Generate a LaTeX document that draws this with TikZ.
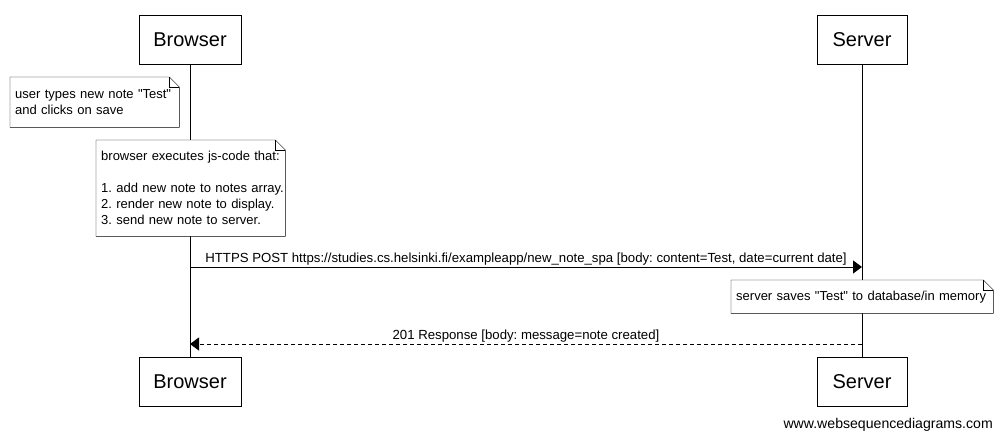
\documentclass[tikz,border=0pt]{standalone}
\usepackage{fontspec}
\newfontfamily\wsdfont{Liberation Sans}
\usetikzlibrary{positioning,arrows.meta}
\frenchspacing

% folded corner round a note node
\newcommand{\dogear}[1]{%
  \draw[fill=white] (#1.north west) -- ([xshift=-10pt]#1.north east) -- ([yshift=-10pt]#1.north east)
    -- (#1.south east) -- (#1.south west) -- cycle;
  \draw ([xshift=-10pt]#1.north east) |- ([yshift=-10pt]#1.north east);}

\tikzset{
  actor/.style={draw, line width=1pt, minimum height=49pt, inner sep=0pt, font=\wsdfont\fontsize{20}{23}\selectfont},
  note/.style={anchor=north west, align=left, inner xsep=5pt, inner ysep=6pt, font=\wsdfont\fontsize{13}{16}\selectfont},
  msg/.style={line width=1pt, -{Triangle[length=9pt,width=13pt]}},
  lbl/.style={font=\wsdfont\fontsize{13.2}{15}\selectfont, inner sep=1.5pt}
}

\begin{document}
\begin{tikzpicture}[x=1pt,y=-1pt,on grid]
  \useasboundingbox (0,0) rectangle (1003,440);
  % participants
  \node[actor, minimum width=102pt] (btop) at (190,39.5) {Browser};
  \node[actor, minimum width=90pt] (stop) [right=672pt of btop] {Server};
  \node[actor, minimum width=102pt] (bbot) [below=342pt of btop] {Browser};
  \node[actor, minimum width=90pt] (sbot) [below=342pt of stop] {Server};
  % lifelines
  \draw[line width=1pt] (btop) -- (bbot);
  \draw[line width=1pt] (stop) -- (sbot);

  % notes
  \node[note, text width=159pt, minimum height=50pt] (typed) at (10,77)
    {user types new note "Test"\\and clicks on save};
  \dogear{typed}
  \node[note, text width=159pt, minimum height=50pt] at (10,77)
    {user types new note "Test"\\and clicks on save};
  \node[note, text width=179pt, minimum height=96pt] (jscode) at (96,140)
    {\mbox{browser executes js-code that:}\\[16pt]\mbox{1. add new note to notes array.}\\\mbox{2. render new note to display.}\\\mbox{3. send new note to server.}};
  \dogear{jscode}
  \node[note, text width=179pt, minimum height=96pt] at (96,140)
    {\mbox{browser executes js-code that:}\\[16pt]\mbox{1. add new note to notes array.}\\\mbox{2. render new note to display.}\\\mbox{3. send new note to server.}};

  % request
  \coordinate (req from) at (190,267);
  \coordinate (req to) at (862,267);
  \draw[msg] (req from) -- node[lbl, above] {HTTPS POST https://studies.cs.helsinki.fi/exampleapp/new\_note\_spa [body: content=Test, date=current date]} (req to);

  \node[note, text width=252pt, minimum height=33pt] (saves) at (731,280)
    {server saves "Test" to database/in memory};
  \dogear{saves}
  \node[note, text width=252pt, minimum height=33pt] at (731,280)
    {server saves "Test" to database/in memory};

  % response
  \coordinate (resp from) at (862,344);
  \coordinate (resp to) at (190,344);
  \draw[msg, dash pattern=on 4pt off 3pt] (resp from) -- node[lbl, above] {201 Response [body: message=note created]} (resp to);

  \node[anchor=east, font=\wsdfont\fontsize{14.1}{16}\selectfont, inner sep=0pt] (credit) at (993,425) {www.websequencediagrams.com};
\end{tikzpicture}
\end{document}
